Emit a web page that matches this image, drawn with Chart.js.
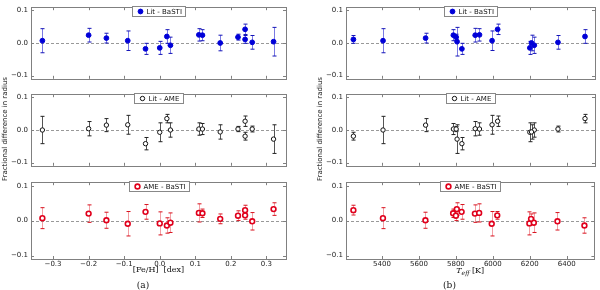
<!DOCTYPE html>
<html>
<head>
<meta charset="utf-8">
<script src="https://cdn.jsdelivr.net/npm/chart.js@4.4.0/dist/chart.umd.min.js"></script>
<style>
  body { margin: 0; background: #fff; }
  #fig { position: relative; width: 600px; height: 290px; overflow: hidden; }
  #fig canvas { position: absolute; }
  .ylab { position: absolute; font: 7px "DejaVu Sans"; color: #222; white-space: nowrap;
          transform: translate(-50%, -50%) rotate(-90deg); }
</style>
</head>
<body>
<div id="fig">
  <canvas id="a1" width="300" height="86" style="left:0;top:0"></canvas>
  <canvas id="a2" width="300" height="86" style="left:0;top:87px"></canvas>
  <canvas id="a3" width="300" height="115" style="left:0;top:175px"></canvas>
  <canvas id="b1" width="300" height="86" style="left:300px;top:0"></canvas>
  <canvas id="b2" width="300" height="86" style="left:300px;top:87px"></canvas>
  <canvas id="b3" width="300" height="115" style="left:300px;top:175px"></canvas>
  <div class="ylab" style="left:5px;top:129px">Fractional difference in radius</div>
  <div class="ylab" style="left:320px;top:129px">Fractional difference in radius</div>
</div>
<script>
// stars: [Fe/H] and Teff
const feh  = [-0.33, -0.20, -0.15, -0.09, -0.04, 0.00, 0.02, 0.03, 0.11, 0.12, 0.17, 0.22, 0.24, 0.24, 0.26, 0.32];
const teff = [5405, 5903, 5635, 5994, 5831, 6198, 6496, 6222, 5926, 5785, 6207, 5800, 6024, 5245, 6350, 5805];

// fractional differences in radius and their errors
const litBasti    = [0.007, 0.024, 0.015, 0.007, -0.018, -0.015, 0.020, -0.007, 0.025, 0.024, 0.000, 0.018, 0.042, 0.011, 0.002, 0.004];
const litBastiErr = [0.037, 0.021, 0.015, 0.030, 0.017, 0.020, 0.021, 0.025, 0.019, 0.017, 0.024, 0.009, 0.016, 0.012, 0.021, 0.044];
const litAme      = [0.000, 0.004, 0.015, 0.016, -0.042, -0.007, 0.035, 0.000, 0.003, 0.003, -0.006, 0.003, 0.027, -0.019, 0.003, -0.028];
const litAmeErr   = [0.042, 0.022, 0.020, 0.029, 0.019, 0.029, 0.013, 0.022, 0.019, 0.017, 0.022, 0.008, 0.016, 0.012, 0.009, 0.044];
const ameBasti    = [0.007, 0.020, 0.001, -0.009, 0.025, -0.008, -0.014, -0.006, 0.022, 0.021, 0.005, 0.014, 0.015, 0.030, -0.002, 0.033];
const ameBastiErr = [0.030, 0.025, 0.023, 0.035, 0.021, 0.033, 0.022, 0.028, 0.026, 0.012, 0.014, 0.014, 0.011, 0.014, 0.025, 0.018];

const fehTicks  = [-0.3, -0.2, -0.1, 0.0, 0.1, 0.2, 0.3];
const teffTicks = [5400, 5600, 5800, 6000, 6200, 6400];
const yTicks    = [-0.1, 0.0, 0.1];

const tickFont = { family: "DejaVu Sans", size: 7 };
const fmt = v => v.toFixed(1).replace("-", "\u2212");

const styles = {
  blue:  { label: "Lit - BaSTI", border: "#0000d8", fill: "#0000d8", bw: 1,   r: 2.4, bar: "rgba(50,50,210,0.65)", cap: "#1414b8" },
  black: { label: "Lit - AME",   border: "#111111", fill: "#ffffff", bw: 1,   r: 2.2, bar: "#555555",              cap: "#222222" },
  red:   { label: "AME - BaSTI", border: "#e0001c", fill: "#ffffff", bw: 1.6, r: 2.4, bar: "rgba(230,60,70,0.5)",  cap: "#d8101c" }
};

// dashed zero line, frame and inward tick marks
const frame = {
  id: "frame",
  beforeDatasetsDraw(chart) {
    const { ctx, chartArea: a, scales: { y } } = chart;
    const y0 = Math.round(y.getPixelForValue(0)) + 0.5;
    ctx.save();
    ctx.strokeStyle = "#999";
    ctx.lineWidth = 1;
    ctx.setLineDash([3, 2]);
    ctx.beginPath(); ctx.moveTo(a.left, y0); ctx.lineTo(a.right, y0); ctx.stroke();
    ctx.restore();
  },
  afterDraw(chart) {
    const { ctx, chartArea: a, scales: { x, y } } = chart;
    ctx.save();
    ctx.strokeStyle = "#808080";
    ctx.lineWidth = 1;
    ctx.beginPath();
    chart.options.xTickList.forEach(v => {
      const px = Math.round(x.getPixelForValue(v)) + 0.5;
      ctx.moveTo(px, a.top); ctx.lineTo(px, a.top + 3);
      ctx.moveTo(px, a.bottom); ctx.lineTo(px, a.bottom - 3);
    });
    yTicks.forEach(v => {
      const py = Math.round(y.getPixelForValue(v)) + 0.5;
      ctx.moveTo(a.left, py); ctx.lineTo(a.left + 3, py);
      ctx.moveTo(a.right, py); ctx.lineTo(a.right - 3, py);
    });
    ctx.stroke();
    ctx.strokeRect(Math.round(a.left) + 0.5, Math.round(a.top) + 0.5,
                   Math.round(a.right - a.left), Math.round(a.bottom - a.top));
    ctx.restore();
  }
};

const errorBars = {
  id: "errorBars",
  beforeDatasetsDraw(chart) {
    const { ctx, scales: { x, y } } = chart;
    ctx.save();
    ctx.lineWidth = 1;
    chart.data.datasets.forEach(ds => {
      ds.data.forEach((p, i) => {
        const e = ds.errors[i];
        const px = Math.round(x.getPixelForValue(p.x)) + 0.5;
        const y1 = y.getPixelForValue(p.y + e);
        const y2 = y.getPixelForValue(p.y - e);
        ctx.strokeStyle = ds.barColor;
        ctx.beginPath(); ctx.moveTo(px, y1); ctx.lineTo(px, y2); ctx.stroke();
        ctx.strokeStyle = ds.capColor;
        ctx.beginPath();
        ctx.moveTo(px - 2, y1); ctx.lineTo(px + 2, y1);
        ctx.moveTo(px - 2, y2); ctx.lineTo(px + 2, y2);
        ctx.stroke();
      });
    });
    ctx.restore();
  }
};

// small boxed legend at the top of each panel
const legendBox = {
  id: "legendBox",
  afterDraw(chart) {
    const { ctx, chartArea: a } = chart;
    const ds = chart.data.datasets[0];
    ctx.save();
    ctx.font = "7px 'DejaVu Sans'";
    const tw = ctx.measureText(ds.label).width;
    const w = Math.round(tw + 18), h = 10;
    const left = Math.round((a.left + a.right) / 2 - w / 2) + 0.5;
    const top = Math.round(a.top) - 0.5;
    ctx.fillStyle = "#fff";
    ctx.strokeStyle = "#888";
    ctx.lineWidth = 1;
    ctx.fillRect(left, top, w, h);
    ctx.strokeRect(left, top, w, h);
    ctx.beginPath();
    ctx.arc(left + 8, top + h / 2, ds.pointRadius, 0, Math.PI * 2);
    ctx.fillStyle = ds.pointBackgroundColor;
    ctx.fill();
    ctx.lineWidth = ds.pointBorderWidth;
    ctx.strokeStyle = ds.pointBorderColor;
    ctx.stroke();
    ctx.fillStyle = "#111";
    ctx.textBaseline = "middle";
    ctx.fillText(ds.label, left + 14, top + h / 2 + 0.5);
    ctx.restore();
  }
};

// T_eff axis label with subscript
const teffTitle = {
  id: "teffTitle",
  afterDraw(chart) {
    if (!chart.options.teffLabel) return;
    const { ctx, chartArea: a } = chart;
    ctx.save();
    ctx.fillStyle = "#111";
    ctx.textBaseline = "alphabetic";
    const fBig = "italic 8px 'DejaVu Serif'", fSub = "italic 6px 'DejaVu Serif'", fK = "8px 'DejaVu Serif'";
    ctx.font = fBig; const w1 = ctx.measureText("T").width;
    ctx.font = fSub; const w2 = ctx.measureText("eff").width;
    ctx.font = fK; const w3 = ctx.measureText(" [K]").width;
    let x0 = (a.left + a.right) / 2 - (w1 + w2 + w3) / 2;
    const base = a.bottom + 14;
    ctx.font = fBig; ctx.fillText("T", x0, base); x0 += w1;
    ctx.font = fSub; ctx.fillText("eff", x0, base + 2); x0 += w2;
    ctx.font = fK; ctx.fillText(" [K]", x0, base);
    ctx.restore();
  }
};

function makePanel(id, xs, ys, errs, st, o) {
  new Chart(document.getElementById(id), {
    type: "scatter",
    data: {
      datasets: [{
        label: st.label,
        data: xs.map((v, i) => ({ x: v, y: ys[i] })),
        errors: errs,
        barColor: st.bar,
        capColor: st.cap,
        pointRadius: st.r,
        pointBackgroundColor: st.fill,
        pointBorderColor: st.border,
        pointBorderWidth: st.bw
      }]
    },
    options: {
      responsive: false,
      animation: false,
      xTickList: o.xTicks,
      teffLabel: o.teffLabel,
      layout: { padding: { top: 2, right: o.right, bottom: o.bottom ? 0 : 2, left: 0 } },
      plugins: {
        legend: { display: false },
        tooltip: { enabled: false },
        title: o.bottom ? {
          display: true, position: "bottom", text: o.caption, color: "#111",
          padding: 0, font: { family: "DejaVu Serif", size: 9, weight: "normal", lineHeight: 1 }
        } : { display: false }
      },
      scales: {
        x: {
          type: "linear",
          min: o.xMin, max: o.xMax,
          display: o.bottom,
          grid: { display: false, drawTicks: false },
          border: { display: false },
          afterBuildTicks: s => { s.ticks = o.xTicks.map(v => ({ value: v })); },
          afterFit: s => { s.height = o.bottom ? 22 : 0; },
          ticks: { font: tickFont, color: "#222", padding: 1, maxRotation: 0, autoSkip: false, callback: o.xFmt },
          title: {
            display: !!o.xTitle, text: o.xTitle, color: "#111",
            font: { family: "DejaVu Serif", size: 8 }, padding: { top: 0, bottom: 6 }
          }
        },
        y: {
          min: -0.11, max: 0.11,
          grid: { display: false, drawTicks: false },
          border: { display: false },
          afterBuildTicks: s => { s.ticks = yTicks.map(v => ({ value: v })); },
          afterFit: s => { s.width = o.yw; },
          ticks: { font: tickFont, color: "#222", padding: 3, callback: fmt }
        }
      }
    },
    plugins: [frame, errorBars, legendBox, teffTitle]
  });
}

const left  = { xTicks: fehTicks,  xMin: -0.362, xMax: 0.355, xFmt: fmt, yw: 31, right: 14 };
const right = { xTicks: teffTicks, xMin: 5205,   xMax: 6550,  xFmt: v => String(v), yw: 46, right: 1 };

makePanel("a1", feh, litBasti, litBastiErr, styles.blue,  { ...left });
makePanel("a2", feh, litAme,   litAmeErr,   styles.black, { ...left });
makePanel("a3", feh, ameBasti, ameBastiErr, styles.red,   { ...left, bottom: true, caption: "(a)", xTitle: "[Fe/H]  [dex]" });
makePanel("b1", teff, litBasti, litBastiErr, styles.blue,  { ...right });
makePanel("b2", teff, litAme,   litAmeErr,   styles.black, { ...right });
makePanel("b3", teff, ameBasti, ameBastiErr, styles.red,   { ...right, bottom: true, caption: "(b)", teffLabel: true });
</script>
</body>
</html>
